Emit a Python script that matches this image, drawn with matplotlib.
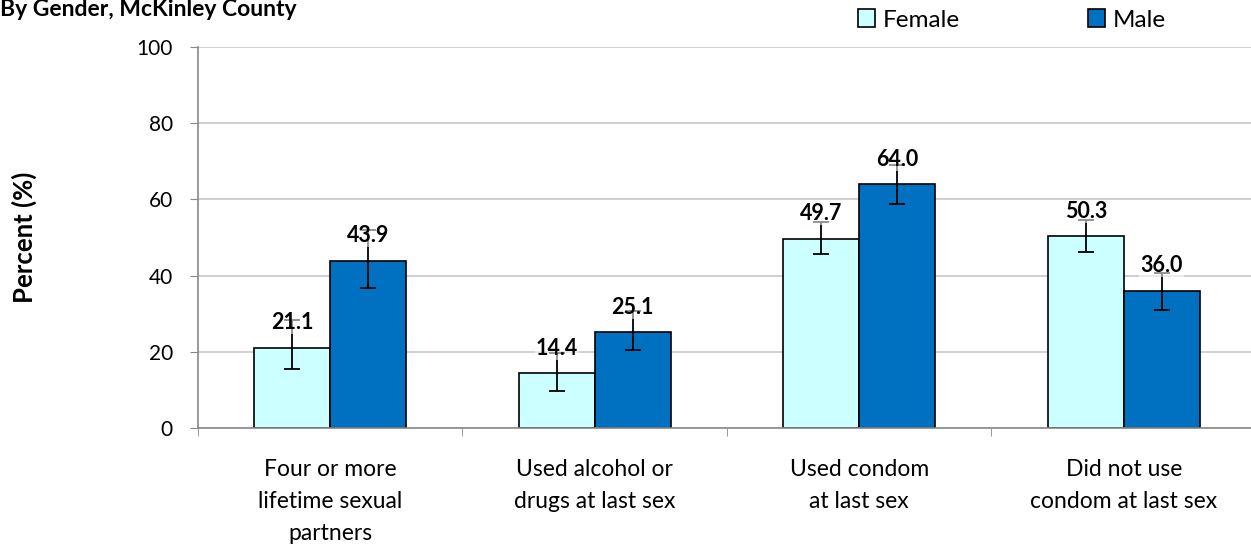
import numpy as np
import matplotlib.pyplot as plt
from matplotlib.ticker import FixedLocator, NullFormatter

plt.rcParams['font.family'] = ['Lato', 'DejaVu Sans']

# data
categories = ['Four or more\nlifetime sexual\npartners',
              'Used alcohol or\ndrugs at last sex',
              'Used condom\nat last sex',
              'Did not use\ncondom at last sex']
female = [21.1, 14.4, 49.7, 50.3]
male = [43.9, 25.1, 64.0, 36.0]
female_lo = [15.6, 9.7, 45.7, 46.2]
female_hi = [28.3, 19.7, 54.1, 54.6]
male_lo = [36.7, 20.5, 58.8, 31.0]
male_hi = [52.0, 30.7, 69.0, 40.7]

fig = plt.figure(figsize=(12.51, 5.5), dpi=100)
ax = fig.add_axes([198 / 1251, 1 - 428 / 550, (1256 - 198) / 1251, (428 - 47) / 550])

x = np.arange(len(categories))
w = 0.287

f_err = [np.array(female) - np.array(female_lo), np.array(female_hi) - np.array(female)]
m_err = [np.array(male) - np.array(male_lo), np.array(male_hi) - np.array(male)]

bf = ax.bar(x - w / 2, female, w, color='#CCFFFF', edgecolor='black', linewidth=1.2,
            label='Female', zorder=2)
bm = ax.bar(x + w / 2, male, w, color='#0070C0', edgecolor='black', linewidth=1.2,
            label='Male', zorder=2)
ax.errorbar(x - w / 2, female, yerr=f_err, fmt='none', ecolor='black', elinewidth=1.3,
            capsize=6, capthick=1.3, zorder=3)
ax.errorbar(x + w / 2, male, yerr=m_err, fmt='none', ecolor='black', elinewidth=1.3,
            capsize=6, capthick=1.3, zorder=3)

for xs, vals in [(x - w / 2, female), (x + w / 2, male)]:
    for xi, v in zip(xs, vals):
        ax.annotate(f'{v:.1f}', (xi, v), xytext=(0, 18), textcoords='offset points',
                    ha='center', va='center', fontsize=15.5, fontweight='bold', zorder=4,
                    bbox=dict(boxstyle='square,pad=0.05', fc='white', ec='none', alpha=0.55))

ax.set_xlim(-0.5, len(categories) - 0.5)
ax.set_ylim(0, 100)
ax.set_yticks([0, 20, 40, 60, 80, 100])
ax.tick_params(axis='y', labelsize=15, length=6, color='#888888', pad=12)
ax.yaxis.grid(True, color='#C8C8C8', linewidth=1.2, zorder=0)
ax.set_axisbelow(True)

ax.set_xticks(x)
ax.set_xticklabels(categories, fontsize=16.5, linespacing=1.65)
ax.tick_params(axis='x', which='major', length=0, pad=22)
ax.xaxis.set_minor_locator(FixedLocator(np.arange(len(categories) + 1) - 0.5))
ax.xaxis.set_minor_formatter(NullFormatter())
ax.tick_params(axis='x', which='minor', length=6, color='#888888')

for s in ['top', 'right']:
    ax.spines[s].set_visible(False)
for s in ['left', 'bottom']:
    ax.spines[s].set_color('#888888')
    ax.spines[s].set_linewidth(1.2)

ax.set_ylabel('Percent (%)', fontsize=18.5, fontweight='bold', labelpad=72)

fig.text(0.0, 1 - 9 / 550, 'By Gender, McKinley County', fontsize=16.5, fontweight='bold',
         ha='left', va='center')

fig.legend(handles=[bf, bm], loc='center left', bbox_to_anchor=(858 / 1251, 1 - 20 / 550),
           ncol=2, frameon=False, fontsize=17.5, handlelength=0.7, handleheight=0.7,
           handletextpad=0.3, columnspacing=5.3, borderaxespad=0, borderpad=0)

fig.savefig('out.png', dpi=100)
